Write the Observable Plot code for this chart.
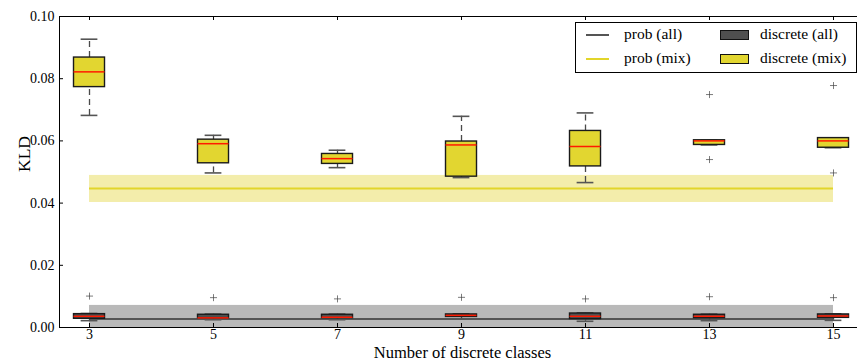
<!DOCTYPE html>
<html>
<head>
<meta charset="utf-8">
<script src="https://cdn.jsdelivr.net/npm/d3@7"></script>
<script src="https://cdn.jsdelivr.net/npm/@observablehq/plot@0.6"></script>
<style>
  body { margin: 0; background: #fff; }
  #wrap { position: relative; width: 857px; height: 362px; overflow: hidden; font-family: "Liberation Serif", serif; }
  #legend { position: absolute; left: 575px; top: 22px; width: 282px; height: 51px; border: 1px solid #000; background: #fff; box-sizing: border-box; font-size: 15.5px; color: #000; }
  #legend .ln { position: absolute; height: 0; width: 23px; }
  #legend .pt { position: absolute; width: 29px; height: 10px; box-sizing: border-box; border: 1px solid #111; }
  #legend .tx { position: absolute; line-height: 1; white-space: nowrap; }
</style>
</head>
<body>
<div id="wrap">
  <div id="chart"></div>
  <div id="legend"></div>
</div>
<script>
// ---- data ----
const classes = [3, 5, 7, 9, 11, 13, 15];

// discrete (mix) box statistics
const mixLow  = [0.0682, 0.0497, 0.0514, 0.0482, 0.0466, 0.0587, 0.0578];
const mixQ1   = [0.0773, 0.0528, 0.0526, 0.0485, 0.0518, 0.0587, 0.0578];
const mixMed  = [0.0822, 0.0591, 0.0543, 0.0587, 0.0582, 0.0600, 0.0600];
const mixQ3   = [0.0868, 0.0604, 0.0558, 0.0598, 0.0632, 0.0602, 0.0609];
const mixHigh = [0.0927, 0.0618, 0.0570, 0.0679, 0.0690, 0.0602, 0.0609];
const mixFliers = [[], [], [], [], [], [0.0749, 0.0540], [0.0778, 0.0497]];

// discrete (all) box statistics
const allLow  = [0.0022, 0.0025, 0.0025, 0.0027, 0.0020, 0.0022, 0.0023];
const allQ1   = [0.0028, 0.0030, 0.0030, 0.0034, 0.0027, 0.0030, 0.0031];
const allMed  = [0.0036, 0.0031, 0.0033, 0.0039, 0.0036, 0.0036, 0.0037];
const allQ3   = [0.0043, 0.0041, 0.0041, 0.0042, 0.0045, 0.0041, 0.0042];
const allHigh = [0.0045, 0.0043, 0.0043, 0.0044, 0.0047, 0.0043, 0.0044];
const allFliers = [[0.0101], [0.0096], [0.0092], [0.0097], [0.0092], [0.0099], [0.0096]];

// prob lines with bands
const probAllMean = 0.0027, probAllLow = 0.0000, probAllHigh = 0.0071;
const probMixMean = 0.0447, probMixLow = 0.0402, probMixHigh = 0.0489;

const yTicks = [0, 0.02, 0.04, 0.06, 0.08, 0.10];
const yTickLabels = ["0.00", "0.02", "0.04", "0.06", "0.08", "0.10"];
const xLabel = "Number of discrete classes";
const yLabel = "KLD";

// ---- styling ----
const yellow = "#e2d630";
const darkBox = "#4f4f4f";
const boxHalf = 0.25, capHalf = 0.135;

function stats(lo, q1, med, q3, hi) {
  return classes.map((c, i) => ({c, lo: lo[i], q1: q1[i], med: med[i], q3: q3[i], hi: hi[i]}));
}
function fliers(arr) {
  return classes.flatMap((c, i) => arr[i].map(v => ({c, v})));
}
const mixStats = stats(mixLow, mixQ1, mixMed, mixQ3, mixHigh);
const allStats = stats(allLow, allQ1, allMed, allQ3, allHigh);

function boxMarks(data, fill) {
  return [
    Plot.ruleX(data, {x: "c", y1: "q3", y2: "hi", stroke: "#4a4a4a", strokeWidth: 1.3, strokeDasharray: "6,4"}),
    Plot.ruleX(data, {x: "c", y1: "lo", y2: "q1", stroke: "#4a4a4a", strokeWidth: 1.3, strokeDasharray: "6,4"}),
    Plot.ruleY(data, {y: "hi", x1: d => d.c - capHalf, x2: d => d.c + capHalf, stroke: "#555", strokeWidth: 1.6}),
    Plot.ruleY(data, {y: "lo", x1: d => d.c - capHalf, x2: d => d.c + capHalf, stroke: "#555", strokeWidth: 1.6}),
    Plot.rect(data, {x1: d => d.c - boxHalf, x2: d => d.c + boxHalf, y1: "q1", y2: "q3", fill, stroke: "#1a1a1a", strokeWidth: 1.4}),
    Plot.ruleY(data, {y: "med", x1: d => d.c - boxHalf, x2: d => d.c + boxHalf, stroke: "#ff1a00", strokeWidth: 1.5})
  ];
}

const H = 362, mT = 16, mB = 35, mL = 59, mR = -8, W = 857;
const frameH = H - mT - mB, frameW = W - mL - mR;
const xFirst = () => classes[0], xLast = () => classes[classes.length - 1];

const chart = Plot.plot({
  width: W, height: H,
  marginTop: mT, marginBottom: mB, marginLeft: mL, marginRight: mR,
  style: {fontFamily: "'Liberation Serif', serif", background: "#fff", color: "#000"},
  x: {domain: [2.516, 15.516]},
  y: {domain: [0, 0.1]},
  marks: [
    // bands
    Plot.rect([0], {x1: xFirst, x2: xLast, y1: () => probMixLow, y2: () => probMixHigh, fill: "#f3edab"}),
    Plot.rect([0], {x1: xFirst, x2: xLast, y1: () => probAllLow, y2: () => probAllHigh, fill: "#b9b9b9"}),
    Plot.ruleY([probMixMean], {x1: xFirst, x2: xLast, stroke: "#e2d52a", strokeWidth: 2}),
    Plot.ruleY([probAllMean], {x1: xFirst, x2: xLast, stroke: "#555", strokeWidth: 2}),
    // boxes
    ...boxMarks(mixStats, yellow),
    ...boxMarks(allStats, darkBox),
    Plot.dot(fliers(mixFliers), {x: "c", y: "v", symbol: "plus", r: 2.4, stroke: "#444", strokeWidth: 0.7}),
    Plot.dot(fliers(allFliers), {x: "c", y: "v", symbol: "plus", r: 2.4, stroke: "#444", strokeWidth: 0.7}),
    // frame and inward ticks
    Plot.frame({stroke: "#000", strokeWidth: 1}),
    Plot.tickX(classes, {x: d => d, insetTop: frameH - 4, stroke: "#000"}),
    Plot.tickX(classes, {x: d => d, insetBottom: frameH - 4, stroke: "#000"}),
    Plot.tickY(yTicks, {y: d => d, insetRight: frameW - 4, stroke: "#000"}),
    // axes text
    Plot.axisX({ticks: classes, tickSize: 0, tickPadding: 2, tickFormat: d => String(d), fontSize: 14, label: null}),
    Plot.axisY({ticks: yTicks, tickSize: 0, tickPadding: 5, tickFormat: d => yTickLabels[yTicks.indexOf(d)], fontSize: 14, label: null}),
    Plot.text([xLabel], {text: d => d, frameAnchor: "bottom", lineAnchor: "bottom", dy: 30.5, fontSize: 16.5, fill: "#000"}),
    Plot.text([yLabel], {text: d => d, frameAnchor: "left", lineAnchor: "middle", dx: -35, rotate: -90, fontSize: 17.5, fill: "#000"})
  ]
});
document.getElementById("chart").appendChild(chart);

// legend
const legendItems = [
  {label: "prob (all)",     kind: "line",  color: "#555",    left: 10,  top: 12},
  {label: "prob (mix)",     kind: "line",  color: "#e2d52a", left: 10,  top: 36},
  {label: "discrete (all)", kind: "patch", color: darkBox,   left: 144, top: 12},
  {label: "discrete (mix)", kind: "patch", color: yellow,    left: 144, top: 36}
];
const leg = document.getElementById("legend");
for (const it of legendItems) {
  const sw = document.createElement("div");
  if (it.kind === "line") {
    sw.className = "ln";
    sw.style.left = it.left + "px";
    sw.style.top = (it.top - 1) + "px";
    sw.style.borderTop = "2px solid " + it.color;
  } else {
    sw.className = "pt";
    sw.style.left = it.left + "px";
    sw.style.top = (it.top - 5) + "px";
    sw.style.background = it.color;
  }
  leg.appendChild(sw);
  const tx = document.createElement("div");
  tx.className = "tx";
  tx.textContent = it.label;
  tx.style.left = (it.left + (it.kind === "line" ? 38 : 40)) + "px";
  tx.style.top = (it.top - 9) + "px";
  leg.appendChild(tx);
}
</script>
</body>
</html>
